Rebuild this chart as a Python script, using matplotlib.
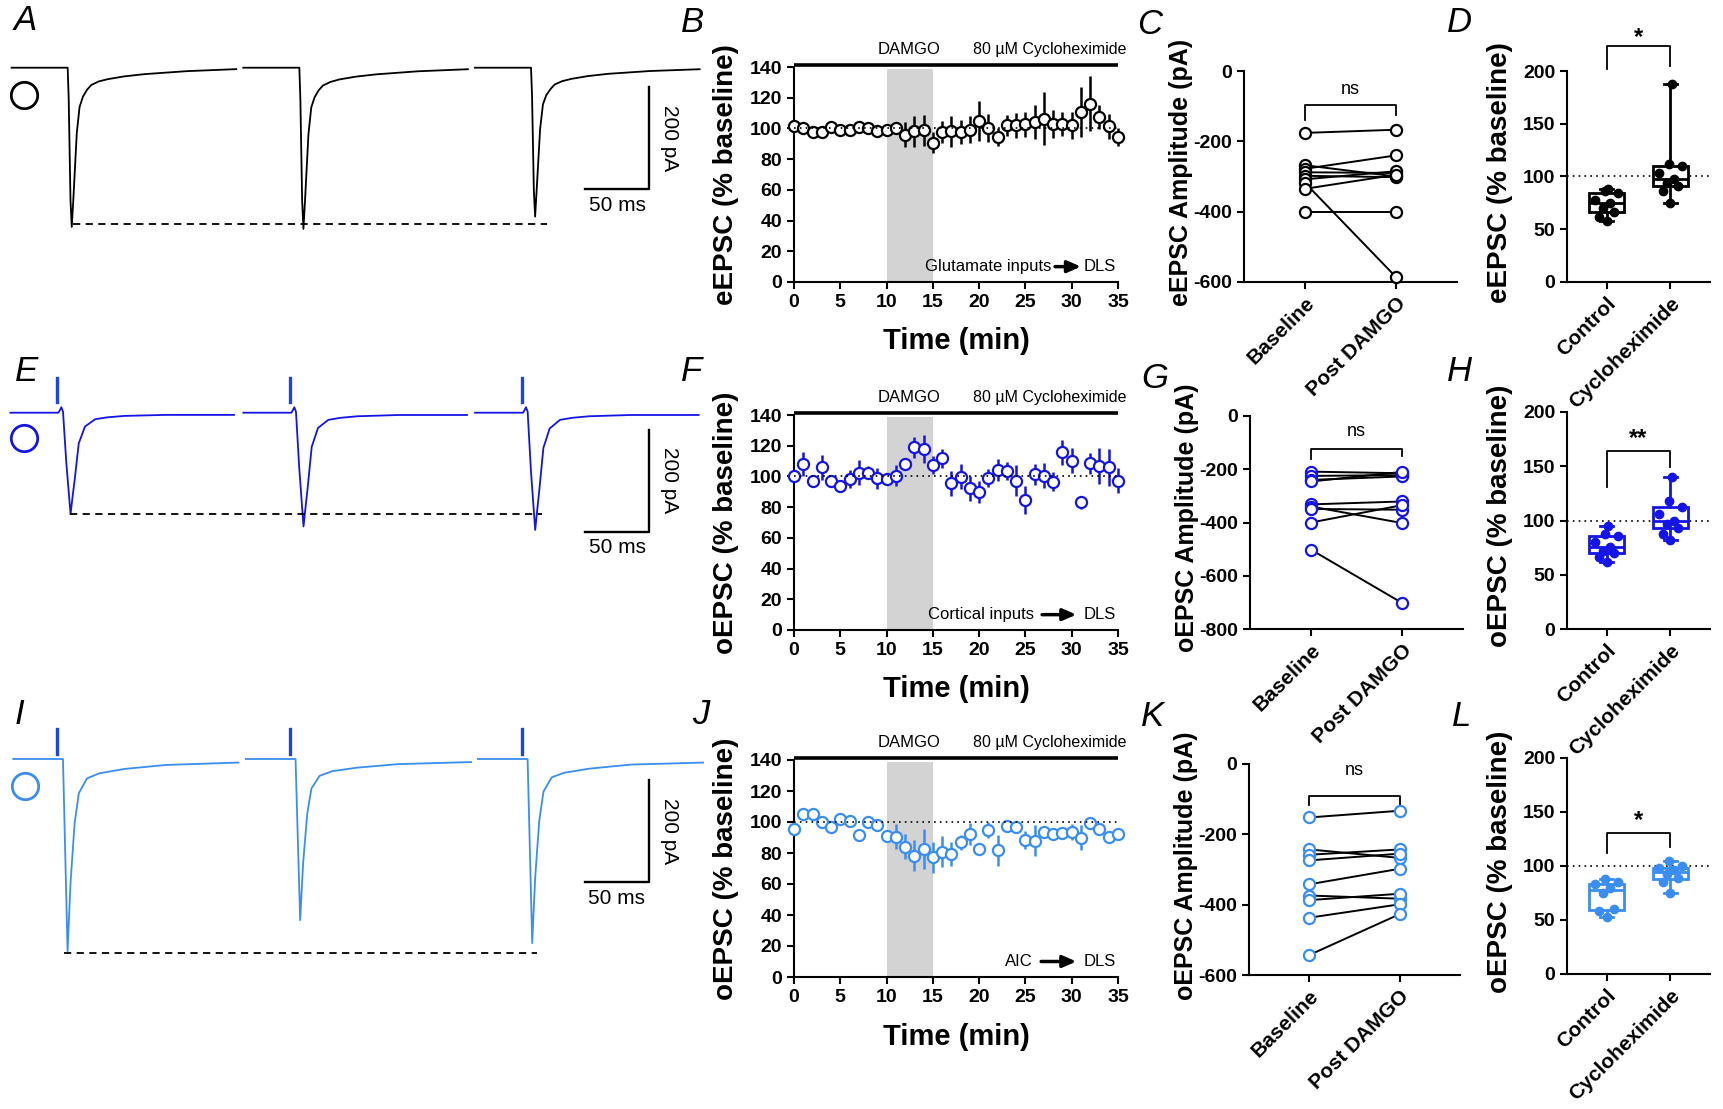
import matplotlib
matplotlib.use('Agg')
import matplotlib.pyplot as plt
import numpy as np

plt.rcParams['font.family'] = ['Liberation Sans', 'DejaVu Sans']
plt.rcParams['axes.unicode_minus'] = False

### Colours of the three rows
row_colors = ['black', '#1414e6', '#3a8ef2']
stim_color = '#1f45e0'

### Example traces (time in ms from sweep start, current in pA)
a_t = [0, 43.8, 44.6, 46.0, 47.0, 48.2, 50.9, 53.1, 55.7, 59.0, 62.2, 68.0, 75.1, 88.0, 104, 136.7, 175.5]
a_sweeps = [[0, 0, -60, -260, -312, -260, -129, -77, -57, -43, -34, -27, -22.5, -17, -12.6, -6.8, -2.8],
            [0, 0, -62, -262, -316, -262, -131, -78, -58, -44, -35, -28, -23, -17.5, -13, -7, -3],
            [0, 0, -55, -240, -292, -240, -120, -72, -54, -42, -33, -26.5, -22, -16.5, -12, -6.5, -3]]
a_starts = [0, 181, 362]

e_t = [0, 37.5, 38.8, 39.8, 41.1, 43.7, 47.0, 48.6, 50.2, 53.4, 58.3, 66.4, 76.0, 89, 121.4, 174.7]
e_sweeps = [[0, 0, 5.5, 10.7, 2, -99, -199, -164, -132, -60, -27, -12.6, -9, -6.3, -4.3, -4.3],
            [0, 0, 5.5, 10.7, 2, -110, -223, -185, -148, -67, -30, -14, -10, -7, -4.5, -4.5],
            [0, 0, 5.5, 10.7, 2, -115, -230, -190, -152, -69, -31, -14, -10, -7, -4.5, -4.5]]
e_starts = [0, 182, 363]

i_t = [0, 38.8, 42.4, 44.7, 47.9, 51.2, 57.6, 67.3, 86.8, 119.1, 175.9]
i_sweeps = [[0, 0, -377, -243, -126, -67, -38, -28, -19.5, -11.7, -7],
            [0, 0, -316, -205, -108, -58, -33, -24, -17, -10, -6],
            [0, 0, -361, -233, -121, -64, -36, -27, -19, -11, -7]]
i_starts = [0, 181.7, 363]

### Time courses (% baseline, mean and SEM)
minutes = list(range(36))
b_mean = [101.4, 100.3, 97.7, 97.7, 101, 98.8, 99.2, 101, 100.3, 98.3, 98.8, 100.3, 96, 98, 98.8, 90.7,
          97.7, 98, 97.7, 99.2, 104.8, 100.3, 94.4, 102, 102, 102.7, 104, 106.4, 102.7, 103, 102, 110.7,
          116, 107.4, 101.4, 94.4]
b_err = [2, 2, 2, 2, 2, 2, 2, 2, 2, 2, 3, 3, 8, 10, 10, 7, 7, 10, 8, 9, 13, 9, 6, 7, 8, 8, 11, 17, 9, 8, 9,
         16, 18, 8, 8, 6]
f_mean = [100.3, 108.1, 97.2, 105.9, 97, 94, 98.3, 102.5, 102.5, 98.8, 98.3, 100.5, 108.1, 119, 117.9, 107.4,
          111.8, 95.5, 99.8, 92.2, 90, 98.8, 104.2, 103.5, 97.2, 84.6, 101.4, 100.5, 96.6, 115.7, 110.3, 83.1,
          108.5, 106.8, 105.9, 97.2]
f_err = [2, 8, 3, 8, 3, 4, 6, 8, 4, 7, 3, 7, 4, 7, 9, 6, 6, 8, 8, 8, 7, 6, 7, 6, 10, 9, 7, 8, 6, 8, 8, 4, 7,
         12, 12, 8]
j_mean = [95.8, 105.1, 105.1, 100.1, 96.5, 101.9, 100.6, 91.5, 99.7, 98, 91.1, 90.5, 84, 78.2, 82.5, 77.1,
          80.8, 79.3, 86.8, 92.2, 82.5, 94.8, 81.8, 97.6, 96.9, 88.3, 87.9, 93.3, 92.2, 92.6, 93.7, 89.8,
          99.1, 95.8, 90.5, 92]
j_err = [3, 3, 3, 2, 2, 2, 2, 2, 2, 3, 3, 8, 8, 10, 13, 10, 10, 8, 5, 7, 4, 5, 10, 4, 3, 6, 10, 3, 3, 3, 5,
         8, 3, 3, 3, 3]

### Paired amplitudes (pA)
pair_labels = ['Baseline', 'Post DAMGO']
c_base = [-176, -268, -278, -288, -298, -308, -318, -335, -400]
c_post = [-167, -300, -240, -290, -302, -285, -586, -295, -400]
g_base = [-209, -225, -240, -246, -332, -340, -349, -400, -502]
g_post = [-215, -222, -227, -210, -321, -402, -352, -335, -702]
k_base = [-152, -243, -258, -274, -342, -374, -387, -437, -543]
k_post = [-133, -267, -243, -255, -298, -383, -369, -399, -427]

### Box plots (% baseline)
box_labels = ['Control', 'Cycloheximide']
d_ctrl = [58, 62, 66, 70, 75, 78, 84, 86, 88]
d_cyc = [75, 86, 91, 94, 98, 103, 110, 112, 188]
h_ctrl = [62, 66, 70, 72, 76, 80, 86, 88, 95]
h_cyc = [82, 88, 93, 97, 100, 106, 112, 118, 140]
l_ctrl = [53, 58, 60, 75, 80, 83, 85, 88]
l_cyc = [75, 85, 89, 93, 96, 98, 100, 105]

W, H = 1723, 1109
fig = plt.figure(figsize=(W / 100, H / 100), dpi=100)

PX_MS = 1.28   # px per ms in trace panels
PX_PA = 0.51   # px per pA in trace panels
JITTER = [0, -0.12, 0.12, -0.06, 0.06, -0.18, 0.18, -0.03, 0.03]


def px_axes(l, t, r, b):
    return fig.add_axes([l / W, 1 - b / H, (r - l) / W, (b - t) / H])


def bold_ticks(ax, size=14):
    for lab in ax.get_xticklabels() + ax.get_yticklabels():
        lab.set_fontweight('bold')
        lab.set_fontsize(size)


def style_axes(ax):
    for s in ['top', 'right']:
        ax.spines[s].set_visible(False)
    for s in ['left', 'bottom']:
        ax.spines[s].set_linewidth(1.5)
    ax.tick_params(width=1.5, length=5)


def draw_traces(top, bottom, x0, y0, times, sweeps, starts, color, dash, circle, bar, stim=None):
    ax = px_axes(0, top, 720, bottom)
    ax.set_xlim(-x0 / PX_MS, (720 - x0) / PX_MS)
    ax.set_ylim((y0 - bottom) / PX_PA, (y0 - top) / PX_PA)
    ax.axis('off')
    for s, vals in zip(starts, sweeps):
        ax.plot(np.array(times) + s, vals, color=color, lw=1.3)
        if stim is not None:
            ax.plot([s + stim[0]] * 2, [stim[1], stim[2]], color=stim_color, lw=2.4)
    ax.plot([dash[0], dash[1]], [dash[2], dash[2]], color='black', lw=1.3, ls=(0, (4, 3)))
    ax.plot([circle[0]], [circle[1]], 'o', ms=19, mfc='none', mec=color, mew=2)
    bx, by = bar
    ax.plot([bx, bx + 50, bx + 50], [by, by, by + 200], color='black', lw=1.7)
    ax.annotate('50 ms', (bx + 25, by), xytext=(0, -5), textcoords='offset points',
                ha='center', va='top', fontsize=15)
    ax.annotate('200 pA', (bx + 50, by + 100), xytext=(15, 0), textcoords='offset points',
                ha='center', va='center', rotation=270, fontsize=15)


def time_panel(box, mean, err, color, ylabel, src, src_end, arrow_x):
    ax = px_axes(*box)
    ax.axvspan(10, 15, ymax=139 / 140, color='#d3d3d3', lw=0, zorder=0)
    ax.errorbar(minutes, mean, yerr=err, fmt='o', ms=8, mfc='white', mec=color, mew=1.6,
                ecolor=color, elinewidth=1.8, capsize=0, clip_on=False, zorder=3)
    ax.plot([0, 35], [100, 100], color='black', lw=1.2, ls=(0, (1, 2.5)), zorder=4)
    ax.plot([0, 35], [141.3, 141.3], color='black', lw=2.6, clip_on=False, solid_capstyle='butt')
    ax.text(12.4, 151.4, 'DAMGO', ha='center', va='center', fontsize=12)
    ax.text(27.6, 151.4, '80 \u00b5M Cycloheximide', ha='center', va='center', fontsize=11.5)
    ax.text(src_end, 10, src, ha='right', va='center', fontsize=12)
    ax.annotate('', xy=(arrow_x[1], 10), xytext=(arrow_x[0], 10),
                arrowprops=dict(arrowstyle='-|>,head_length=0.8,head_width=0.35', lw=2.5, color='black'))
    ax.text(31.3, 10, 'DLS', ha='left', va='center', fontsize=12)
    ax.set_xlim(0, 35)
    ax.set_ylim(0, 140)
    ax.set_xticks(range(0, 36, 5))
    ax.set_yticks(range(0, 141, 20))
    style_axes(ax)
    bold_ticks(ax)
    ax.set_xlabel('Time (min)', fontsize=21, fontweight='bold')
    ax.xaxis.set_label_coords(0.5, -0.21)
    ax.set_ylabel(ylabel, fontsize=20, fontweight='bold')
    ax.yaxis.set_label_coords(-0.17, 0.5)


def pair_panel(box, base, post, color, ylabel, ymin, bracket):
    ax = px_axes(*box)
    for b, p in zip(base, post):
        ax.plot([0, 1], [b, p], color='black', lw=1.4, zorder=2)
    for x, vals in [(0, base), (1, post)]:
        ax.plot([x] * len(vals), vals, 'o', ls='none', ms=8, mfc='white', mec=color, mew=1.6,
                zorder=3, clip_on=False)
    top, leg_l, leg_r, txt = bracket
    ax.plot([0, 0, 1, 1], [leg_l, top, top, leg_r], color='black', lw=1.3)
    ax.text(0.5, txt, 'ns', ha='center', va='center', fontsize=13)
    ax.set_xlim(-0.67, 1.67)
    ax.set_ylim(ymin, 0)
    ax.set_yticks(range(ymin, 1, 200))
    ax.set_xticks([0, 1])
    ax.set_xticklabels(pair_labels, rotation=45, ha='right', va='top', rotation_mode='anchor')
    style_axes(ax)
    bold_ticks(ax)
    for lab in ax.get_xticklabels():
        lab.set_fontsize(15)
    ax.set_ylabel(ylabel, fontsize=18, fontweight='bold')
    ax.yaxis.set_label_coords(-0.24, 0.52)


def box_panel(box, ctrl, cyc, color, ylabel, star, bracket):
    ax = px_axes(*box)
    ax.plot([-0.62, 1.62], [100, 100], color='black', lw=1.2, ls=(0, (1, 2.5)), zorder=1)
    ax.boxplot([ctrl, cyc], positions=[0, 1], widths=0.55, whis=(0, 100), patch_artist=True,
               showfliers=False,
               boxprops=dict(facecolor='white', edgecolor=color, lw=2),
               medianprops=dict(color=color, lw=2),
               whiskerprops=dict(color=color, lw=2),
               capprops=dict(color=color, lw=2), capwidths=0.2, zorder=2)
    for x, vals in [(0, ctrl), (1, cyc)]:
        xs = [x + JITTER[k % len(JITTER)] for k in range(len(vals))]
        ax.plot(xs, sorted(vals), 'o', ls='none', ms=6, mfc=color, mec=color, zorder=3, clip_on=False)
    top, leg_l, leg_r, txt = bracket
    ax.plot([0, 0, 1, 1], [leg_l, top, top, leg_r], color='black', lw=1.3, clip_on=False)
    ax.text(0.5, txt, star, ha='center', va='center', fontsize=17, fontweight='bold')
    ax.set_xlim(-0.62, 1.62)
    ax.set_ylim(0, 200)
    ax.set_yticks(range(0, 201, 50))
    ax.set_xticks([0, 1])
    ax.set_xticklabels(box_labels, rotation=45, ha='right', va='top', rotation_mode='anchor')
    style_axes(ax)
    bold_ticks(ax)
    for lab in ax.get_xticklabels():
        lab.set_fontsize(15)
    ax.set_ylabel(ylabel, fontsize=20, fontweight='bold')
    ax.yaxis.set_label_coords(-0.38, 0.52)


# Row 1
draw_traces(0, 330, 11.6, 67.7, a_t, a_sweeps, a_starts, row_colors[0],
            dash=(47.6, 418, -306.5), circle=(9.7, -53.5), bar=(448, -237.8))
time_panel((794, 67, 1118, 282), b_mean, b_err, row_colors[0], 'eEPSC (% baseline)',
           'Glutamate inputs', 27.8, (27.9, 31.3))
pair_panel((1244, 71, 1457, 282), c_base, c_post, row_colors[0], 'eEPSC Amplitude (pA)', -600,
           (-98, -140, -126, -53))
box_panel((1567, 71, 1710, 282), d_ctrl, d_cyc, row_colors[0], 'eEPSC (% baseline)', '*',
          (224, 202, 205, 232))

# Row 2
draw_traces(335, 660, 10.4, 412.7, e_t, e_sweeps, e_starts, row_colors[1],
            dash=(46.3, 415, -198.6), circle=(10.6, -50), bar=(449, -233), stim=(36.6, 68.6, 21.6))
time_panel((794, 415, 1118, 630), f_mean, f_err, row_colors[1], 'oEPSC (% baseline)',
           'Cortical inputs', 25.9, (26.5, 30.8))
pair_panel((1250, 416, 1463, 629), g_base, g_post, row_colors[1], 'oEPSC Amplitude (pA)', -800,
           (-125, -162, -150, -59))
box_panel((1567, 412, 1710, 629), h_ctrl, h_cyc, row_colors[1], 'oEPSC (% baseline)', '**',
          (164, 131, 149, 176))

# Row 3
draw_traces(665, 1000, 13.3, 759, i_t, i_sweeps, i_starts, row_colors[2],
            dash=(39.8, 409, -381), circle=(9.1, -53), bar=(446.6, -241.8), stim=(34.3, 58.8, 9.8))
time_panel((794, 760, 1118, 977), j_mean, j_err, row_colors[2], 'oEPSC (% baseline)',
           'AIC', 25.8, (26.4, 30.8))
pair_panel((1249, 764, 1460, 975), k_base, k_post, row_colors[2], 'oEPSC Amplitude (pA)', -600,
           (-90, -116, -116, -19))
box_panel((1567, 758, 1710, 974), l_ctrl, l_cyc, row_colors[2], 'oEPSC (% baseline)', '*',
          (131, 112, 118, 142))

# Panel letters
letters = ['A', 'B', 'C', 'D', 'E', 'F', 'G', 'H', 'I', 'J', 'K', 'L']
letter_px = [(25, 21), (693, 22), (1150, 24), (1460, 22),
             (27, 372), (692, 372), (1155, 378), (1460, 372),
             (19, 715), (701, 714), (1153, 716), (1462, 716)]
for lab, (x, y) in zip(letters, letter_px):
    fig.text(x / W, 1 - y / H, lab, fontsize=25, fontstyle='italic', ha='center', va='center')

fig.savefig('out.png', dpi=100)
